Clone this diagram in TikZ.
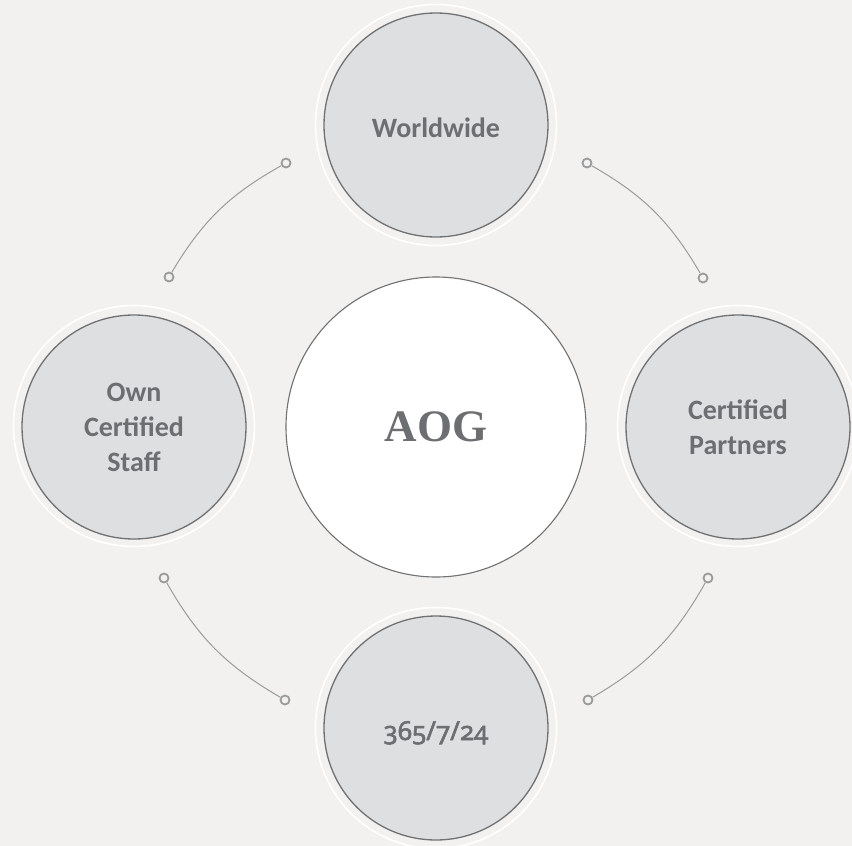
\documentclass[tikz,border=0pt]{standalone}
\usepackage{fontspec}
\setsansfont{Carlito}
\newfontfamily\numfont{Noto Sans}[Numbers=OldStyle, AutoFakeBold=2.2]
\setmainfont{Liberation Serif}
\definecolor{bgc}{HTML}{F2F1EF}
\definecolor{fillc}{HTML}{DEDFE1}
\definecolor{edgec}{HTML}{707173}
\definecolor{txtc}{HTML}{6D6E71}
\definecolor{linec}{HTML}{9A9B9D}
\tikzset{
  sat/.style={circle, draw=edgec, line width=1.3pt, fill=fillc, minimum size=224pt, inner sep=0pt,
    text=txtc, font=\sffamily\bfseries\fontsize{28}{35}\selectfont, align=center},
  numtext/.style={font=\numfont\bfseries\fontsize{26}{35}\selectfont},
  halo/.style={circle, draw=white, line width=1.6pt, minimum size=241pt, inner sep=0pt},
  hub/.style={circle, draw=edgec, line width=1.1pt, fill=white, minimum size=300pt, inner sep=0pt,
    text=txtc, font=\rmfamily\bfseries\fontsize{45}{50}\selectfont},
  dot/.style={circle, draw=linec, line width=1.8pt, fill=bgc, minimum size=9pt, inner sep=0pt},
  link/.style={draw=linec, line width=1pt}
}
\begin{document}
\begin{tikzpicture}[x=1pt, y=-1pt]
\useasboundingbox[fill=bgc] (0,0) rectangle (852,846);
% halos
\node[halo] (ht) at (436,125) {};
\node[halo] (hb) at (436,728) {};
\node[halo] (hl) at (134,426) {};
\node[halo] (hr) at (738,426) {};
% satellites
\node[sat] (top) at (436,125) {\smash{\raisebox{-12pt}{Worldwide}}};
\node[sat, numtext] (bot) at (436,728) {\smash{\raisebox{-12pt}{365/7/24}}};
\node[sat] (lft) at (134,427) {Own\\Certified\\Staff};
\node[sat] (rgt) at (738,427) {Certified\\Partners};
% hub
\node[hub] (aog) at (436,427) {AOG};
% connector end points
\node[dot] (tl1) at (286,163) {};
\node[dot] (tl2) at (169,277) {};
\node[dot] (tr1) at (587,163) {};
\node[dot] (tr2) at (703,278) {};
\node[dot] (bl1) at (164,578) {};
\node[dot] (bl2) at (285,700) {};
\node[dot] (br1) at (708,578) {};
\node[dot] (br2) at (588,700) {};
% connectors
\draw[link] (tl1) to[bend right=15] (tl2);
\draw[link] (tr1) to[bend left=15] (tr2);
\draw[link] (bl1) to[bend right=15] (bl2);
\draw[link] (br1) to[bend left=15] (br2);
\end{tikzpicture}
\end{document}
